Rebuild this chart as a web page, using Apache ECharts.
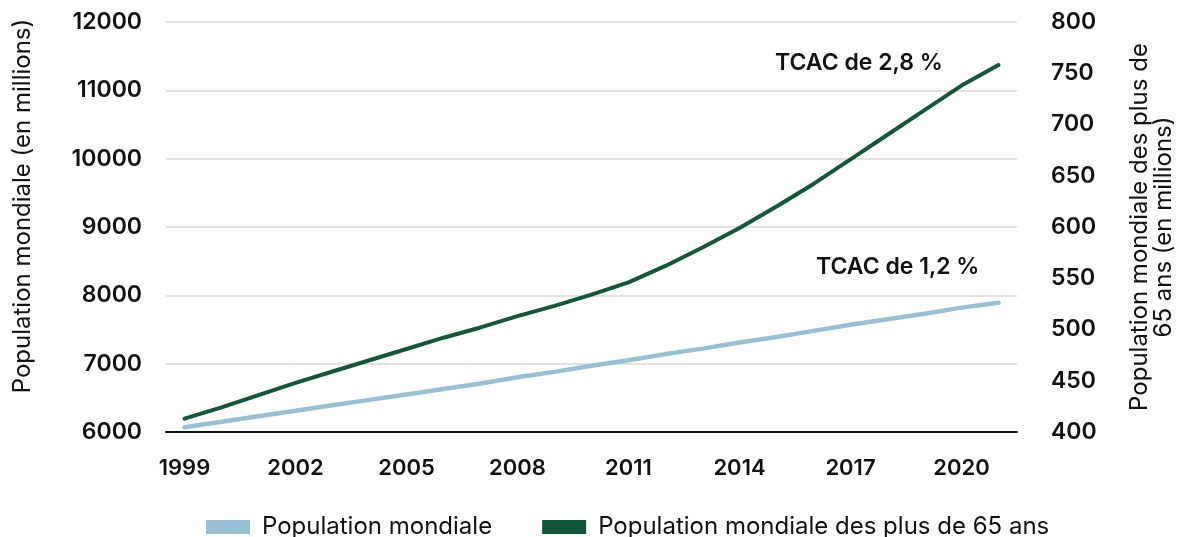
<!DOCTYPE html>
<html>
<head>
<meta charset="utf-8">
<script src="https://cdn.jsdelivr.net/npm/echarts@6/dist/echarts.min.js"></script>
<style>
html,body{margin:0;padding:0;background:#fff;}
#c{width:1184px;height:537px;}
</style>
</head>
<body>
<div id="c"></div>
<script>
const years = ['1999','2000','2001','2002','2003','2004','2005','2006','2007','2008','2009','2010','2011','2012','2013','2014','2015','2016','2017','2018','2019','2020','2021'];
const worldPop = [6070,6150,6230,6310,6390,6470,6550,6630,6710,6800,6880,6970,7050,7140,7220,7310,7390,7480,7570,7650,7730,7820,7890];
const pop65 = [413,424,436,448,459,470,481,492,502,513,523,534,546,562,580,599,620,642,666,690,714,738,758];
const leftTicks = {min:6000, max:12000, interval:1000};
const rightTicks = {min:400, max:800, interval:50};
const seriesNames = ['Population mondiale','Population mondiale des plus de 65 ans'];
const notes = ['TCAC de 2,8 %','TCAC de 1,2 %'];

const FONT = 'Inter';
const chart = echarts.init(document.getElementById('c'));
chart.setOption({
  animation:false,
  textStyle:{fontFamily:FONT},
  grid:{left:166,right:162,top:22,bottom:105,containLabel:false},
  legend:{
    left:201, top:510,
    itemWidth:44, itemHeight:14, itemGap:50,
    icon:'rect',
    textStyle:{fontFamily:FONT,fontSize:24,color:'#111',padding:[0,0,0,7]},
    data:seriesNames
  },
  xAxis:{
    type:'category', data:years, boundaryGap:true,
    axisLine:{lineStyle:{color:'#111',width:2}},
    axisTick:{show:false},
    axisLabel:{interval:2,margin:25,fontFamily:FONT,fontSize:22,fontWeight:600,color:'#111'}
  },
  yAxis:[{
    type:'value', min:leftTicks.min, max:leftTicks.max, interval:leftTicks.interval,
    name:'Population mondiale (en millions)', nameLocation:'middle', nameGap:131, nameRotate:90,
    nameTextStyle:{fontFamily:FONT,fontSize:24,color:'#111',padding:[0,0,0,42]},
    axisLine:{show:false}, axisTick:{show:false},
    axisLabel:{margin:24,fontFamily:FONT,fontSize:23,fontWeight:600,color:'#111',formatter:function(v){return String(v);}},
    splitLine:{lineStyle:{color:'#d9d9d9',width:1.5}}
  },{
    type:'value', min:rightTicks.min, max:rightTicks.max, interval:rightTicks.interval,
    name:'Population mondiale des plus de\n65 ans (en millions)', nameLocation:'middle', nameGap:111, nameRotate:90,
    nameTextStyle:{fontFamily:FONT,fontSize:24,color:'#111',lineHeight:24,align:'center'},
    axisLine:{show:false}, axisTick:{show:false},
    axisLabel:{margin:34,fontFamily:FONT,fontSize:23,fontWeight:600,color:'#111'},
    splitLine:{show:false}
  }],
  series:[{
    name:seriesNames[0], type:'line', yAxisIndex:0, data:worldPop,
    showSymbol:false, symbol:'none',
    lineStyle:{color:'#99bfd3',width:4.5,cap:'round'}, itemStyle:{color:'#99bfd3'}
  },{
    name:seriesNames[1], type:'line', yAxisIndex:1, data:pop65,
    showSymbol:false, symbol:'none',
    lineStyle:{color:'#15553a',width:4,cap:'round'}, itemStyle:{color:'#15553a'}
  }],
  graphic:[
    {type:'text',left:775,top:52,style:{text:notes[0],fontFamily:FONT,fontSize:23,fontWeight:600,fill:'#111'}},
    {type:'text',left:816,top:256,style:{text:notes[1],fontFamily:FONT,fontSize:23,fontWeight:600,fill:'#111'}}
  ]
});
</script>
</body>
</html>
